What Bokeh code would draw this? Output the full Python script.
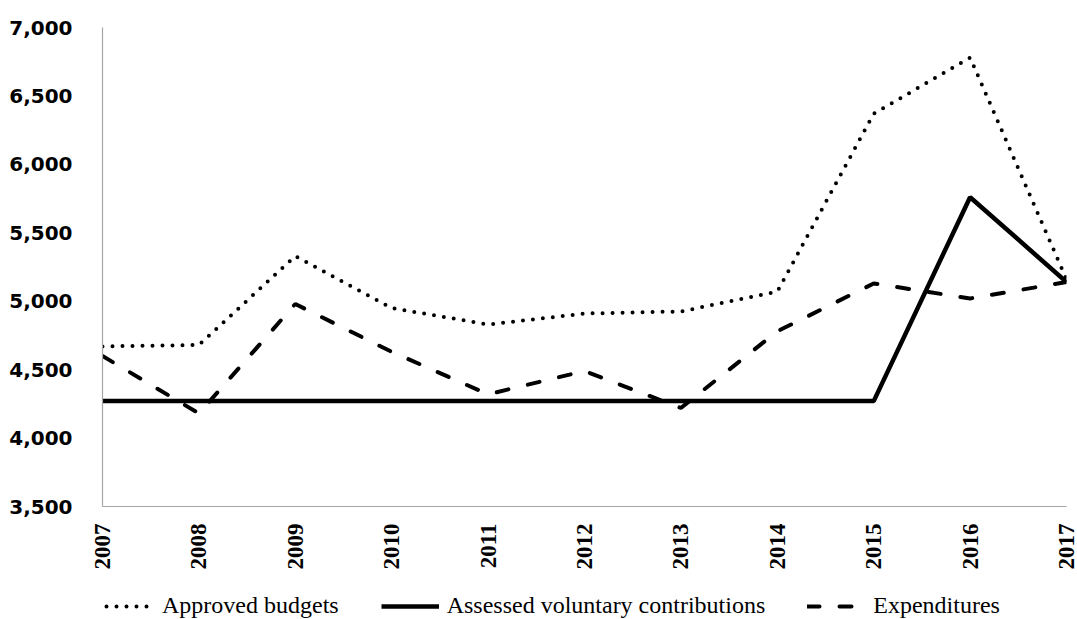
import math
from bokeh.plotting import figure
from bokeh.layouts import column
from bokeh.models import (FixedTicker, NumeralTickFormatter, Range1d, Legend,
                          LegendItem)
from bokeh.embed import file_html
from bokeh.resources import INLINE

years = [2007, 2008, 2009, 2010, 2011, 2012, 2013, 2014, 2015, 2016, 2017]
approved_budgets = [4670, 4680, 5330, 4950, 4830, 4910, 4925, 5070, 6370, 6780, 5160]
assessed_contributions = [4270, 4270, 4270, 4270, 4270, 4270, 4270, 4270, 4270, 5760, 5140]
expenditures = [4600, 4180, 4980, 4630, 4320, 4490, 4220, 4780, 5130, 5020, 5140]
y_ticks = [3500, 4000, 4500, 5000, 5500, 6000, 6500, 7000]
series_names = ["Approved budgets", "Assessed voluntary contributions", "Expenditures"]

styles = [
    dict(line_color="black", line_width=4, line_dash="0 10", line_cap="round"),
    dict(line_color="black", line_width=4.5),
    dict(line_color="black", line_width=4, line_dash="12 20", line_cap="round"),
]

p = figure(width=1077, height=575, output_backend="svg", toolbar_location=None,
           x_range=Range1d(2007, 2017), y_range=Range1d(3500, 7000),
           min_border_left=102, min_border_right=11, min_border_top=27,
           min_border_bottom=69)
p.outline_line_color = None
p.xgrid.visible = False
p.ygrid.visible = False

p.line(years, approved_budgets, **styles[0])
p.line(years, assessed_contributions, **styles[1])
p.line(years, expenditures, **styles[2])

# y axis
p.yaxis.ticker = FixedTicker(ticks=y_ticks)
p.yaxis.formatter = NumeralTickFormatter(format="0,0")
p.yaxis.major_label_text_font = "DejaVu Sans"
p.yaxis.major_label_text_font_style = "bold"
p.yaxis.major_label_text_font_size = "20px"
p.yaxis.major_label_text_color = "black"
p.yaxis.axis_line_color = "#a6a6a6"
p.yaxis.axis_line_width = 1.2
p.yaxis.major_tick_line_color = None
p.yaxis.minor_tick_line_color = None
p.yaxis.major_tick_out = 0
p.yaxis.major_tick_in = 0
p.yaxis.minor_tick_out = 0
p.yaxis.major_label_standoff = 30

# x axis
p.xaxis.ticker = FixedTicker(ticks=years)
p.xaxis.major_label_orientation = math.pi / 2
p.xaxis.major_label_text_font = "Liberation Serif"
p.xaxis.major_label_text_font_style = "bold"
p.xaxis.major_label_text_font_size = "23px"
p.xaxis.major_label_text_color = "black"
p.xaxis.axis_line_color = "#a6a6a6"
p.xaxis.axis_line_width = 1.2
p.xaxis.major_tick_line_color = None
p.xaxis.minor_tick_line_color = None
p.xaxis.major_tick_out = 0
p.xaxis.major_tick_in = 0
p.xaxis.minor_tick_out = 0
p.xaxis.major_label_standoff = 17

# legend strip below the chart
lg = figure(width=1077, height=44, output_backend="svg", toolbar_location=None,
            x_range=Range1d(0, 1), y_range=Range1d(0, 1),
            x_axis_type=None, y_axis_type=None,
            min_border_left=0, min_border_right=0, min_border_top=0,
            min_border_bottom=0)
lg.outline_line_color = None
lg.xgrid.visible = False
lg.ygrid.visible = False
dummies = [lg.line(x=[-10, -9], y=[-10, -10], **s) for s in styles]

legend = Legend(items=[LegendItem(label=n, renderers=[r])
                       for n, r in zip(series_names, dummies)],
                orientation="horizontal", location=(-6, 0))
legend.label_text_font = "Liberation Serif"
legend.label_text_font_size = "24px"
legend.label_text_color = "black"
legend.glyph_width = 58
legend.glyph_height = 20
legend.label_height = 20
legend.spacing = 42
legend.label_standoff = 8
legend.border_line_color = None
legend.background_fill_alpha = 0
legend.margin = 0
legend.padding = 0
lg.add_layout(legend, "center")

layout = column(p, lg, spacing=0)
open("out.html", "w").write(file_html(layout, INLINE))
